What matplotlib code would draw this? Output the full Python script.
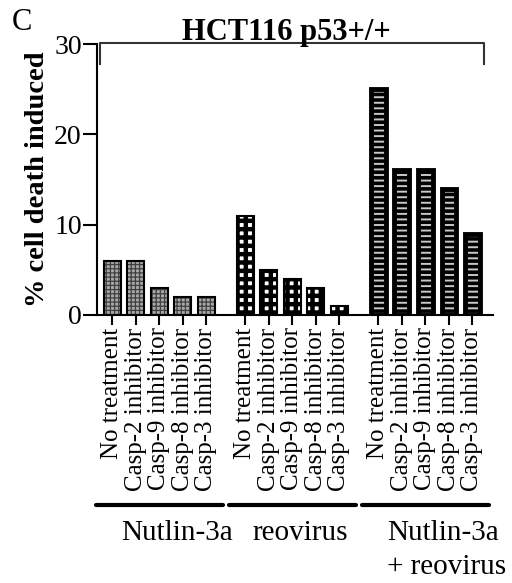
import matplotlib.pyplot as plt
import numpy as np

plt.rcParams['font.family'] = ['Liberation Serif', 'DejaVu Serif']

groups = ["Nutlin-3a", "reovirus", "Nutlin-3a\n+ reovirus"]
treatments = ["No treatment", "Casp-2 inhibitor", "Casp-9 inhibitor",
              "Casp-8 inhibitor", "Casp-3 inhibitor"]
nutlin = [6, 6, 3, 2, 2]
reovirus = [11, 5, 4, 3, 1]
combo = [25, 16, 16, 14, 9]

fig = plt.figure(figsize=(5.12, 5.83), dpi=100)
ax = fig.add_axes([0.1895, 0.4597, 0.7734, 0.4648])

step = 5.66
styles = [
    dict(face='#a8a8a8', hatch='++++', hcolor='#404040', hlw=0.9, lw=1.5),
    dict(face='white', hatch='++', hcolor='black', hlw=3.2, lw=1.5),
    dict(face='black', hatch='---', hcolor='#c8c8c8', hlw=1.4, lw=3.5),
]
all_pos = []
for g, vals in enumerate([nutlin, reovirus, combo]):
    pos = g * step + np.arange(len(vals))
    all_pos.extend(pos)
    st = styles[g]
    w = 0.72 if g < 2 else 0.62
    with plt.rc_context({'hatch.linewidth': st['hlw']}):
        ax.bar(pos, vals, width=w, color=st['face'], edgecolor=st['hcolor'],
               hatch=st['hatch'], linewidth=0, zorder=2)
    ax.bar(pos, vals, width=w, fill=False, edgecolor='black',
           linewidth=st['lw'], zorder=3)
    # group underline
    ax.plot([pos[0] - 0.7, pos[-1] + 0.7], [-0.70, -0.70], color='black',
            lw=3, transform=ax.get_xaxis_transform(), clip_on=False,
            solid_capstyle='round')

xt = ax.get_xaxis_transform()
ax.text(2.77, -0.805, groups[0], transform=xt, ha='center', va='center',
        fontsize=21)
ax.text(8.0, -0.805, groups[1], transform=xt, ha='center', va='center',
        fontsize=21)
ax.text(11.7, -0.757, groups[2], transform=xt, ha='left', va='top',
        fontsize=21, linespacing=1.4, multialignment='left')

ax.set_xticks(all_pos)
ax.set_xticklabels(treatments * 3, rotation=90, fontsize=18)
ax.set_xlim(-0.64, 16.2)
ax.set_ylim(0, 30)
ax.set_yticks([0, 10, 20, 30])
ax.tick_params(axis='y', labelsize=20, length=10, width=1.5, pad=1)
ax.tick_params(axis='x', length=7, width=1.5, pad=2)
for s in ['top', 'right']:
    ax.spines[s].set_visible(False)
for s in ['left', 'bottom']:
    ax.spines[s].set_linewidth(1.5)
ax.set_ylabel("% cell death induced", fontsize=20.5, fontweight='bold',
              labelpad=3)

# bracket over all bars
x0, x1 = all_pos[0] - 0.5, all_pos[-1] + 0.5
ax.plot([x0, x0, x1, x1], [27.8, 30.1, 30.1, 27.8], color='#333333', lw=1.5,
        clip_on=False)

fig.text(0.559, 0.945, "HCT116 p53+/+", ha='center', va='center',
         fontsize=22, fontweight='bold')
fig.text(0.042, 0.962, "C", ha='center', va='center', fontsize=22)

fig.savefig("out.png", dpi=100)
